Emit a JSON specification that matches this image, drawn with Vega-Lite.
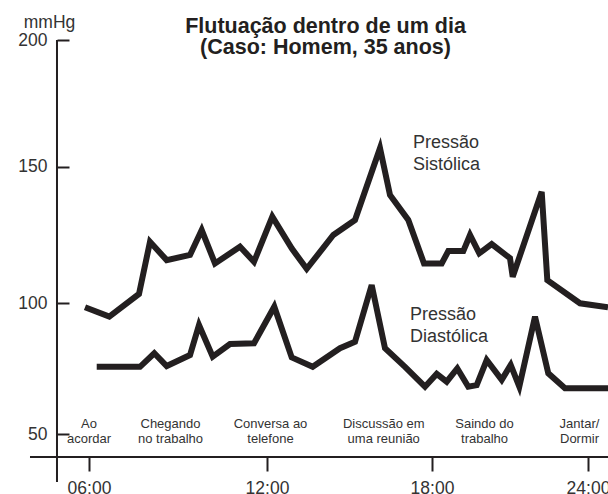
{
  "$schema": "https://vega.github.io/schema/vega-lite/v6.json",
  "width": 551,
  "height": 417,
  "autosize": {"type": "none"},
  "padding": {"left": 57, "top": 40, "right": 0, "bottom": 37},
  "background": "white",
  "config": {"view": {"stroke": null}, "font": "Liberation Sans"},
  "title": {
    "text": ["Flutuação dentro de um dia", "(Caso: Homem, 35 anos)"],
    "fontSize": 21.5,
    "fontWeight": "bold",
    "lineHeight": 20.5,
    "color": "#231f20",
    "anchor": "middle",
    "frame": "group",
    "dx": -7,
    "dy": 45,
    "offset": 0
  },
  "datasets": {
    "pressure": [
      {"series": "Sistólica", "hour": 5.865, "mmHg": 98.5},
      {"series": "Sistólica", "hour": 6.684, "mmHg": 94.9},
      {"series": "Sistólica", "hour": 7.685, "mmHg": 103.4},
      {"series": "Sistólica", "hour": 8.056, "mmHg": 122.5},
      {"series": "Sistólica", "hour": 8.619, "mmHg": 115.8},
      {"series": "Sistólica", "hour": 9.405, "mmHg": 117.7},
      {"series": "Sistólica", "hour": 9.799, "mmHg": 126.8},
      {"series": "Sistólica", "hour": 10.247, "mmHg": 114.6},
      {"series": "Sistólica", "hour": 11.09, "mmHg": 120.7},
      {"series": "Sistólica", "hour": 11.562, "mmHg": 115.2},
      {"series": "Sistólica", "hour": 12.193, "mmHg": 131.7},
      {"series": "Sistólica", "hour": 12.898, "mmHg": 120.1},
      {"series": "Sistólica", "hour": 13.444, "mmHg": 112.6},
      {"series": "Sistólica", "hour": 14.411, "mmHg": 125.0},
      {"series": "Sistólica", "hour": 15.2, "mmHg": 130.5},
      {"series": "Sistólica", "hour": 16.109, "mmHg": 157.3},
      {"series": "Sistólica", "hour": 16.473, "mmHg": 139.6},
      {"series": "Sistólica", "hour": 17.138, "mmHg": 130.5},
      {"series": "Sistólica", "hour": 17.709, "mmHg": 114.6},
      {"series": "Sistólica", "hour": 18.373, "mmHg": 114.6},
      {"series": "Sistólica", "hour": 18.627, "mmHg": 119.1},
      {"series": "Sistólica", "hour": 19.204, "mmHg": 119.1},
      {"series": "Sistólica", "hour": 19.462, "mmHg": 125.0},
      {"series": "Sistólica", "hour": 19.819, "mmHg": 118.3},
      {"series": "Sistólica", "hour": 20.296, "mmHg": 121.7},
      {"series": "Sistólica", "hour": 21.0, "mmHg": 116.5},
      {"series": "Sistólica", "hour": 21.104, "mmHg": 109.7},
      {"series": "Sistólica", "hour": 22.219, "mmHg": 140.8},
      {"series": "Sistólica", "hour": 22.435, "mmHg": 108.5},
      {"series": "Sistólica", "hour": 23.692, "mmHg": 100.0},
      {"series": "Sistólica", "hour": 24.769, "mmHg": 98.5},
      {"series": "Diastólica", "hour": 6.26, "mmHg": 75.7},
      {"series": "Diastólica", "hour": 7.719, "mmHg": 75.7},
      {"series": "Diastólica", "hour": 8.201, "mmHg": 80.9},
      {"series": "Diastólica", "hour": 8.619, "mmHg": 76.0},
      {"series": "Diastólica", "hour": 9.405, "mmHg": 80.2},
      {"series": "Diastólica", "hour": 9.708, "mmHg": 91.7},
      {"series": "Diastólica", "hour": 10.17, "mmHg": 79.6},
      {"series": "Diastólica", "hour": 10.753, "mmHg": 84.4},
      {"series": "Diastólica", "hour": 11.562, "mmHg": 84.7},
      {"series": "Diastólica", "hour": 12.265, "mmHg": 98.7},
      {"series": "Diastólica", "hour": 12.898, "mmHg": 79.3},
      {"series": "Diastólica", "hour": 13.662, "mmHg": 75.7},
      {"series": "Diastólica", "hour": 14.655, "mmHg": 82.8},
      {"series": "Diastólica", "hour": 15.2, "mmHg": 85.3},
      {"series": "Diastólica", "hour": 15.807, "mmHg": 106.7},
      {"series": "Diastólica", "hour": 16.291, "mmHg": 82.8},
      {"series": "Diastólica", "hour": 17.018, "mmHg": 75.7},
      {"series": "Diastólica", "hour": 17.745, "mmHg": 68.1},
      {"series": "Diastólica", "hour": 18.181, "mmHg": 73.0},
      {"series": "Diastólica", "hour": 18.565, "mmHg": 70.0},
      {"series": "Diastólica", "hour": 18.973, "mmHg": 75.1},
      {"series": "Diastólica", "hour": 19.396, "mmHg": 68.1},
      {"series": "Diastólica", "hour": 19.719, "mmHg": 68.7},
      {"series": "Diastólica", "hour": 20.104, "mmHg": 78.3},
      {"series": "Diastólica", "hour": 20.681, "mmHg": 70.7},
      {"series": "Diastólica", "hour": 21.027, "mmHg": 76.4},
      {"series": "Diastólica", "hour": 21.358, "mmHg": 68.1},
      {"series": "Diastólica", "hour": 21.962, "mmHg": 94.9},
      {"series": "Diastólica", "hour": 22.473, "mmHg": 73.2},
      {"series": "Diastólica", "hour": 23.115, "mmHg": 67.5},
      {"series": "Diastólica", "hour": 24.769, "mmHg": 67.5}
    ],
    "events": [
      {"hour": 6.0, "event": "Ao\nacordar"},
      {"hour": 8.747, "event": "Chegando\nno trabalho"},
      {"hour": 12.127, "event": "Conversa ao\ntelefone"},
      {"hour": 16.244, "event": "Discussão em\numa reunião"},
      {"hour": 20.02, "event": "Saindo do\ntrabalho"},
      {"hour": 23.673, "event": "Jantar/\nDormir"}
    ],
    "seriesLabels": [
      {"hour": 17.31, "mmHg": 159.5, "label": "Pressão\nSistólica"},
      {"hour": 17.2, "mmHg": 95.5, "label": "Pressão\nDiastólica"}
    ]
  },
  "layer": [
    {
      "data": {"name": "pressure"},
      "mark": {"type": "line", "color": "#231f20", "strokeWidth": 6, "strokeJoin": "miter", "strokeCap": "butt"},
      "encoding": {
        "x": {
          "field": "hour",
          "type": "quantitative",
          "scale": {"domain": [6, 12, 18, 24], "range": [32, 210, 375, 531], "nice": false, "zero": false},
          "axis": {
            "title": null,
            "values": [6, 12, 18, 24],
            "domain": false,
            "grid": false,
            "tickSize": 14,
            "tickWidth": 2,
            "tickColor": "#231f20",
            "labelPadding": 8,
            "labelFontSize": 17.5,
            "labelColor": "#333333",
            "labelExpr": "(datum.value < 10 ? '0' : '') + datum.value + ':00'",
            "labelOverlap": false,
            "labelFlush": false,
            "labelBound": false
          }
        },
        "y": {
          "field": "mmHg",
          "type": "quantitative",
          "scale": {"domain": [50, 100, 150, 200], "range": [394, 263.3, 126.7, 0], "nice": false, "zero": false},
          "axis": {
            "title": "mmHg",
            "values": [50, 100, 150, 200],
            "domain": false,
            "grid": false,
            "tickSize": -12,
            "tickWidth": 2,
            "tickColor": "#231f20",
            "labelPadding": 22,
            "labelFontSize": 17.5,
            "labelColor": "#333333",
            "titleAngle": 0,
            "titleAlign": "center",
            "titleBaseline": "middle",
            "titleX": -8,
            "titleY": -18,
            "titleFontSize": 17.5,
            "titleFontWeight": "normal",
            "titleColor": "#333333"
          }
        },
        "detail": {"field": "series", "type": "nominal"}
      }
    },
    {
      "data": {"values": [{}]},
      "mark": {"type": "rule", "color": "#231f20", "strokeWidth": 2},
      "encoding": {
        "x": {"datum": 4.921},
        "y": {"datum": 31.64},
        "y2": {"datum": 200}
      }
    },
    {
      "data": {"values": [{}]},
      "mark": {"type": "rule", "color": "#231f20", "strokeWidth": 2},
      "encoding": {
        "y": {"datum": 41.2},
        "x": {"datum": 4.011},
        "x2": {"datum": 24.769}
      }
    },
    {
      "data": {"name": "events"},
      "mark": {"type": "text", "fontSize": 13, "lineBreak": "\n", "lineHeight": 15.5, "align": "center", "baseline": "middle", "color": "#333333"},
      "encoding": {
        "x": {"field": "hour", "type": "quantitative"},
        "y": {"datum": 54.0},
        "text": {"field": "event"}
      }
    },
    {
      "data": {"name": "seriesLabels"},
      "mark": {"type": "text", "fontSize": 18, "lineBreak": "\n", "lineHeight": 22, "align": "left", "baseline": "middle", "color": "#333333"},
      "encoding": {
        "x": {"field": "hour", "type": "quantitative"},
        "y": {"field": "mmHg", "type": "quantitative"},
        "text": {"field": "label"}
      }
    }
  ]
}
